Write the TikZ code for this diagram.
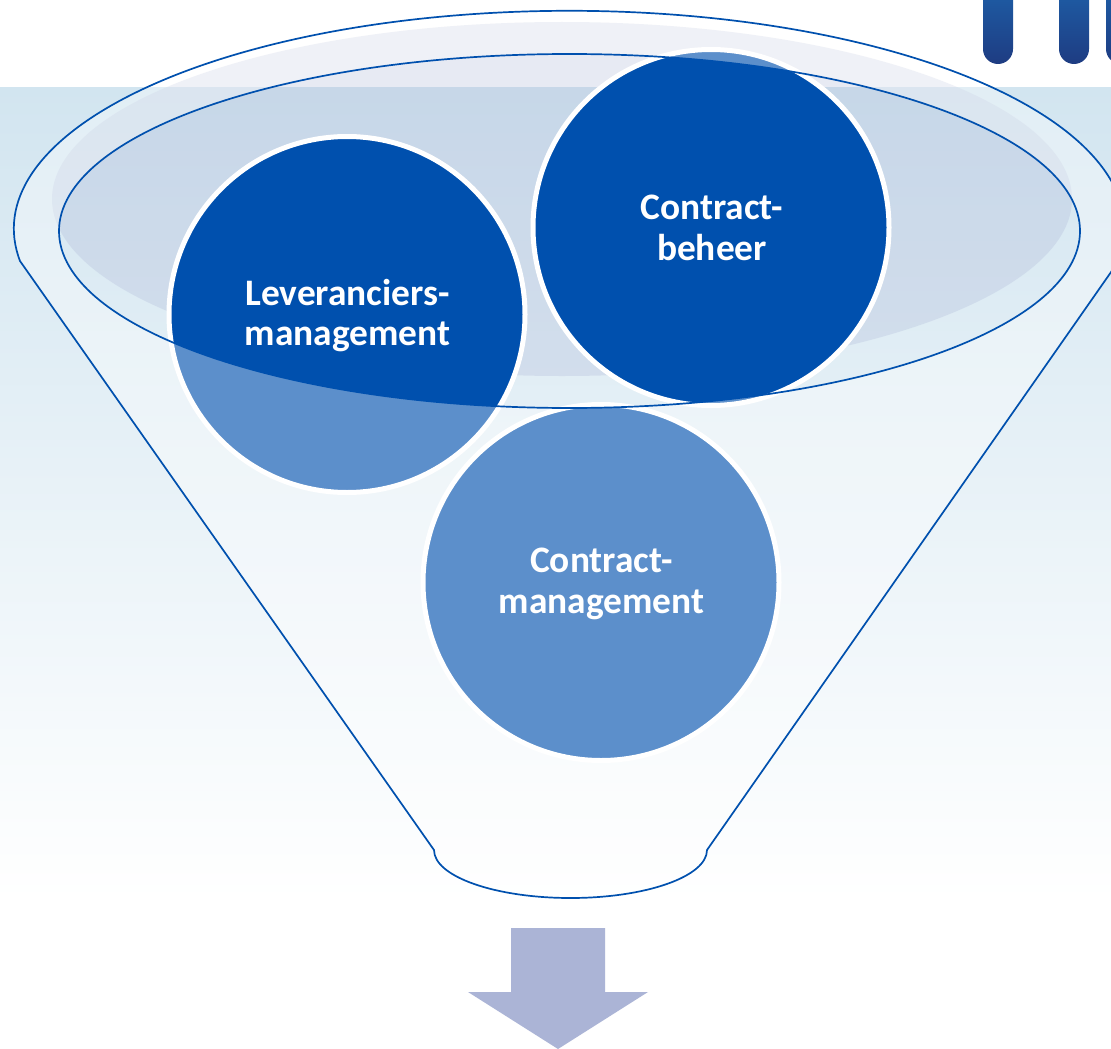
\documentclass[tikz,border=0pt]{standalone}
\usepackage{fontspec}
\setmainfont{Carlito}
\definecolor{funnelblue}{HTML}{0050AE}
\definecolor{arrowblue}{HTML}{ABB4D6}
\definecolor{skyblue}{HTML}{D2E5F0}
\definecolor{pilltop}{HTML}{1E58A0}
\definecolor{pillbottom}{HTML}{1E3C82}
\tikzset{
	ballshape/.style={circle, fill=funnelblue, draw=white, line width=5pt, minimum size=356pt, inner sep=0pt},
	balltext/.style={text=white, align=center, font=\fontsize{37.4}{40.5}\selectfont\bfseries},
	pillshape/.style={top color=pilltop, bottom color=pillbottom},
	funneledge/.style={draw=funnelblue, line width=1.7pt}
}
\def\funnelpath{(20,-261) arc (188.5:-8.5:555.5 and 218) -- (707,-850) arc (0:-180:136.5 and 48) -- cycle}
\begin{document}
\begin{tikzpicture}[x=1pt, y=1pt]
	\useasboundingbox (0,0) rectangle (1111,-1049);
	\clip (0,0) rectangle (1111,-1049);

	% backdrop
	\fill[white] (0,0) rectangle (1111,-1049);
	\shade[top color=skyblue, bottom color=white] (0,-87) rectangle (1111,-900);

	% logo bars
	\shade[pillshape] (983,0) -- (983,-49) arc (180:360:15) -- (1013,0) -- cycle;
	\shade[pillshape] (1059,0) -- (1059,-49) arc (180:360:15) -- (1089,0) -- cycle;
	\shade[pillshape] (1106,0) -- (1106,-49) arc (180:360:15) -- (1136,0) -- cycle;

	% shadow inside funnel mouth
	\fill[arrowblue, opacity=0.28] (562,-199) ellipse (510 and 177);

	\node[ballshape] (leverancier) at (347,-314.5) {};
	\node[ballshape] (beheer) at (711,-227.5) {};
	\node[ballshape] (management) at (601,-582.5) {};

	% veil over funnel, open at the mouth
	\fill[white, opacity=0.36, even odd rule] \funnelpath (569.5,-231) ellipse (510.5 and 177);

	\draw[funneledge] \funnelpath;
	\draw[funneledge] (569.5,-231) ellipse (510.5 and 177);

	\node[balltext] (levertext) at (347.5,-315.5) {Leveranciers-\\management};
	\node[balltext] (behertext) at (712,-228) {Contract-\\beheer};
	\node[balltext] (mgmttext) at (601.5,-584) {Contract-\\management};

	% arrow
	\fill[arrowblue] (511,-928) -- (605,-928) -- (605,-992) -- (648,-992) -- (558,-1049) -- (468,-992) -- (511,-992) -- cycle;
\end{tikzpicture}
\end{document}
